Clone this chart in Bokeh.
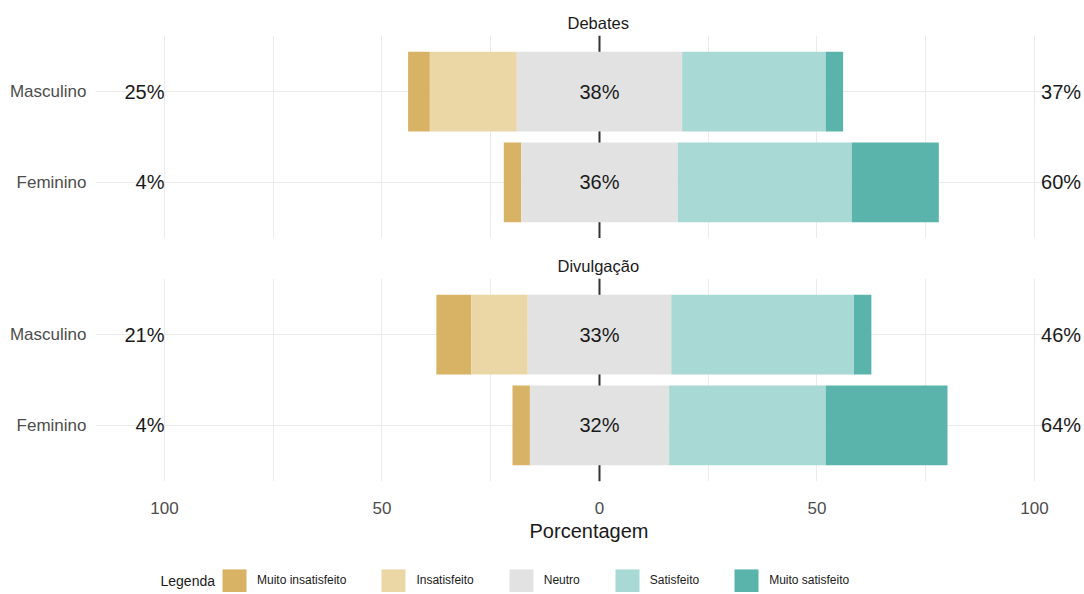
import numpy as np
from bokeh.plotting import figure
from bokeh.models import (FactorRange, Range1d, FixedTicker, Span, Legend,
                          LegendItem, Label)
from bokeh.layouts import column
from bokeh.embed import file_html
from bokeh.resources import INLINE
from bokeh.core.properties import value

# ---------------- data ----------------
groups = ["Masculino", "Feminino"]
levels = ["Muito insatisfeito", "Insatisfeito", "Neutro", "Satisfeito", "Muito satisfeito"]
panel_titles = ["Debates", "Divulgação"]

deb_muito_insatisfeito = [5, 4]
deb_insatisfeito = [20, 0]
deb_neutro = [38, 36]
deb_satisfeito = [33, 40]
deb_muito_satisfeito = [4, 20]

div_muito_insatisfeito = [8, 4]
div_insatisfeito = [13, 0]
div_neutro = [33, 32]
div_satisfeito = [42, 36]
div_muito_satisfeito = [4, 28]

tick_values = [-100, -50, 0, 50, 100]
tick_labels = ["100", "50", "0", "50", "100"]
minor_tick_values = [-75, -25, 25, 75]

# ---------------- style ----------------
FONT = "Liberation Sans"
palette = ["#D8B365", "#EBD6A6", "#E2E2E2", "#A9D9D4", "#5AB4AC"]
GRID = "#EBEBEB"
W = 1082
LEFT = 95
X_RANGE = (-115.86, (W - LEFT - 504) / 4.35)
LEFT_LABEL_X = -100.0
RIGHT_LABEL_X = 101.5


def make_panel(title, vals, height, top, bottom, title_offset, show_x):
    p = figure(width=W, height=height,
               y_range=FactorRange(factors=groups[::-1], range_padding=0.12,
                                   range_padding_units="absolute"),
               x_range=Range1d(*X_RANGE),
               output_backend="svg", toolbar_location=None,
               min_border_left=LEFT, min_border_right=0,
               min_border_top=top, min_border_bottom=bottom,
               title=title)
    p.outline_line_color = None
    p.title.align = "left"
    p.title.offset = title_offset
    p.title.standoff = 8
    p.title.text_font = FONT
    p.title.text_font_size = "16.5px"
    p.title.text_font_style = "normal"
    p.title.text_color = "#1A1A1A"

    # grids
    p.xgrid.ticker = FixedTicker(ticks=tick_values, minor_ticks=minor_tick_values)
    p.xgrid.grid_line_color = GRID
    p.xgrid.minor_grid_line_color = GRID
    p.ygrid.grid_line_color = GRID

    p.add_layout(Span(location=0, dimension="height", line_color="#333333",
                      line_width=2, level="underlay"))

    arrs = [np.array(v, dtype=float) for v in vals]
    mi, ins, neu, sat, ms = arrs
    start = -(mi + ins + neu / 2.0)
    cum = start.copy()
    for k, a in enumerate(arrs):
        p.hbar(y=groups, left=cum, right=cum + a, height=0.88,
               fill_color=palette[k], line_color=None)
        cum = cum + a

    left_pct = [f"{int(v)}%" for v in (mi + ins)]
    mid_pct = [f"{int(v)}%" for v in neu]
    right_pct = [f"{int(v)}%" for v in (sat + ms)]
    common = dict(text_font=value(FONT), text_font_size="20px",
                  text_baseline="middle", text_color="#1A1A1A")
    p.text(x=[LEFT_LABEL_X] * len(groups), y=groups, text=left_pct,
           text_align="right", **common)
    p.text(x=[0] * len(groups), y=groups, text=mid_pct,
           text_align="center", **common)
    p.text(x=[RIGHT_LABEL_X] * len(groups), y=groups, text=right_pct,
           text_align="left", **common)

    # axes
    p.yaxis.axis_line_color = None
    p.yaxis.major_tick_line_color = None
    p.yaxis.minor_tick_line_color = None
    p.yaxis.major_label_standoff = 3
    p.yaxis.major_label_text_font = FONT
    p.yaxis.major_label_text_font_size = "17px"
    p.yaxis.major_label_text_color = "#4D4D4D"

    p.xaxis.ticker = FixedTicker(ticks=tick_values)
    p.xaxis.major_label_overrides = {v: l for v, l in zip(tick_values, tick_labels)}
    p.xaxis.axis_line_color = None
    p.xaxis.major_tick_line_color = None
    p.xaxis.minor_tick_line_color = None
    p.xaxis.major_label_text_font = FONT
    p.xaxis.major_label_text_font_size = "17px"
    p.xaxis.major_label_text_color = "#4D4D4D"
    p.xaxis.major_label_standoff = 14
    if show_x:
        p.xaxis.axis_label = "Porcentagem"
        p.xaxis.axis_label_text_font = FONT
        p.xaxis.axis_label_text_font_size = "20px"
        p.xaxis.axis_label_text_font_style = "normal"
        p.xaxis.axis_label_text_color = "#1A1A1A"
        p.xaxis.axis_label_standoff = 3
    else:
        p.xaxis.visible = False
    return p


p1 = make_panel(panel_titles[0],
                [deb_muito_insatisfeito, deb_insatisfeito, deb_neutro,
                 deb_satisfeito, deb_muito_satisfeito],
                height=238, top=35, bottom=0, title_offset=472, show_x=False)
p2 = make_panel(panel_titles[1],
                [div_muito_insatisfeito, div_insatisfeito, div_neutro,
                 div_satisfeito, div_muito_satisfeito],
                height=308, top=40, bottom=65, title_offset=462, show_x=True)

# legend strip (data units = page pixels)
p3 = figure(width=W, height=46, x_range=Range1d(LEFT, W), y_range=Range1d(0, 46),
            x_axis_type=None, y_axis_type=None, output_backend="svg",
            toolbar_location=None, min_border=0, min_border_left=LEFT,
            min_border_right=0)
p3.outline_line_color = None
p3.xgrid.visible = False
p3.ygrid.visible = False
items = []
for lev, col in zip(levels, palette):
    r = p3.rect(x=[np.nan], y=[np.nan], width=1, height=1,
                fill_color=col, line_color=None)
    items.append(LegendItem(label=lev, renderers=[r]))
# area legend glyphs are inset by 10% on each side -> 30x29 box gives ~24x23 swatch
leg = Legend(items=items, orientation="horizontal", location=(219 - LEFT, -2.5),
             glyph_width=30, glyph_height=29, label_standoff=8, spacing=32,
             padding=0, margin=0, border_line_color=None,
             background_fill_alpha=0, label_text_font=FONT,
             label_text_font_size="12px", label_text_color="#1A1A1A",
             label_height=29)
p3.add_layout(leg, "center")
p3.add_layout(Label(x=160, y=12, text="Legenda", text_baseline="middle",
                    text_font=FONT, text_font_size="14px", text_color="#1A1A1A"))

layout = column(p1, p2, p3, spacing=0)
open("out.html", "w").write(file_html(layout, INLINE))
